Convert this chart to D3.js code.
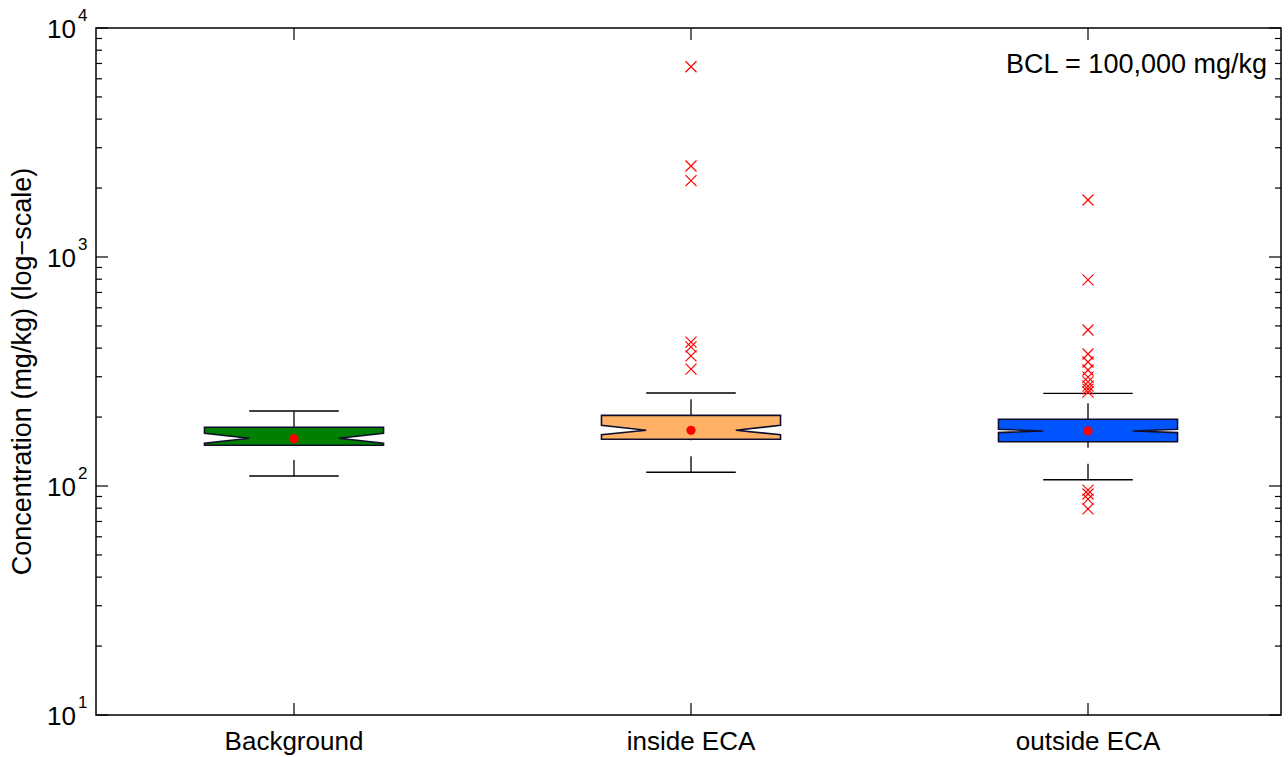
<!DOCTYPE html>
<html>
<head>
<meta charset="utf-8">
<script src="https://cdn.jsdelivr.net/npm/d3@7"></script>
<style>
  html, body { margin: 0; padding: 0; background: #fff; }
  svg { display: block; font-family: "Liberation Sans", Arial, sans-serif; }
</style>
</head>
<body>
<svg id="chart" width="1288" height="757"></svg>
<script>
// ---- Data ----
const categories = ["Background", "inside ECA", "outside ECA"];
const boxColors = ["#007f00", "#ffb266", "#0055ff"];
const q1Values = [150.6, 159.9, 156.1];
const q3Values = [180.4, 203.5, 195.6];
const medianValues = [161.6, 175.1, 173.9];
const notchLowValues = [153.7, 167.5, 171.0];
const notchHighValues = [169.9, 184.1, 176.9];
const whiskerLowValues = [110.6, 114.8, 106.5];
const whiskerHighValues = [212.6, 254.7, 254.0];
const meanValues = [161, 175, 174];
const outliersBackground = [];
const outliersInside = [6776, 2497, 2154, 425, 405, 370, 324];
const outliersOutside = [1774, 794, 480, 377, 348, 321, 299, 285, 273, 265, 257, 96.0, 92.3, 87.7, 79.4];
const yTickExponents = [1, 2, 3, 4];
const annotationText = "BCL = 100,000 mg/kg";
const yLabelText = "Concentration (mg/kg) (log\u2212scale)";

const outliers = [outliersBackground, outliersInside, outliersOutside];

(function () {
// ---- Layout ----
const svg = d3.select("#chart");
const pLeft = 96, pRight = 1281, pTop = 28, pBottom = 715;
const FS = 26;

const x = d3.scaleLinear().domain([1, 3]).range([294, 1088]);
const y = d3.scaleLog().domain([10, 10000]).range([pBottom, pTop]);

const boxHalf = 0.2255;   // in category units

// ---- Boxes ----
const g = svg.append("g");

categories.forEach((c, i) => {
  const cx = i + 1;
  const xl = x(cx - boxHalf), xr = x(cx + boxHalf);
  const xil = x(cx - boxHalf / 2), xir = x(cx + boxHalf / 2);
  const capL = x(cx - boxHalf / 2), capR = x(cx + boxHalf / 2);
  const xc = x(cx);

  g.append("line").attr("x1", xc).attr("x2", xc)
    .attr("y1", y(q3Values[i])).attr("y2", y(whiskerHighValues[i]))
    .attr("stroke", "#000").attr("stroke-width", 1.3).attr("stroke-dasharray", "16,16");
  g.append("line").attr("x1", xc).attr("x2", xc)
    .attr("y1", y(whiskerLowValues[i])).attr("y2", y(q1Values[i]))
    .attr("stroke", "#000").attr("stroke-width", 1.3).attr("stroke-dasharray", "16,16");
  [whiskerHighValues[i], whiskerLowValues[i]].forEach(v => {
    g.append("line").attr("x1", capL).attr("x2", capR)
      .attr("y1", y(v)).attr("y2", y(v))
      .attr("stroke", "#000").attr("stroke-width", 1.3);
  });

  const pts = [
    [xl, y(q1Values[i])], [xl, y(notchLowValues[i])], [xil, y(medianValues[i])],
    [xl, y(notchHighValues[i])], [xl, y(q3Values[i])], [xr, y(q3Values[i])],
    [xr, y(notchHighValues[i])], [xir, y(medianValues[i])], [xr, y(notchLowValues[i])],
    [xr, y(q1Values[i])]
  ];
  g.append("path")
    .attr("d", d3.line()(pts) + "Z")
    .attr("fill", boxColors[i])
    .attr("stroke", "#10102e").attr("stroke-width", 1.6)
    .attr("stroke-linejoin", "miter");

  g.append("circle").attr("cx", xc).attr("cy", y(meanValues[i])).attr("r", 4.6).attr("fill", "#ff0000");

  outliers[i].forEach(v => {
    const oy = y(v), s = 5.5;
    g.append("path")
      .attr("d", `M${xc - s},${oy - s}L${xc + s},${oy + s}M${xc - s},${oy + s}L${xc + s},${oy - s}`)
      .attr("stroke", "#ff0000").attr("stroke-width", 1.2).attr("fill", "none");
  });
});

// ---- Axes frame & ticks ----
const axisG = svg.append("g");
axisG.append("rect").attr("x", pLeft).attr("y", pTop).attr("width", pRight - pLeft).attr("height", pBottom - pTop)
  .attr("fill", "none").attr("stroke", "#000").attr("stroke-width", 1.5);

const minorTicks = [];
for (let e = 1; e < 4; e++) for (let m = 2; m <= 9; m++) minorTicks.push(m * Math.pow(10, e));
minorTicks.forEach(v => {
  axisG.append("line").attr("x1", pLeft).attr("x2", pLeft + 6).attr("y1", y(v)).attr("y2", y(v)).attr("stroke", "#000").attr("stroke-width", 1.2);
  axisG.append("line").attr("x1", pRight).attr("x2", pRight - 6).attr("y1", y(v)).attr("y2", y(v)).attr("stroke", "#000").attr("stroke-width", 1.2);
});
yTickExponents.forEach(e => {
  const v = Math.pow(10, e);
  axisG.append("line").attr("x1", pLeft).attr("x2", pLeft + 12).attr("y1", y(v)).attr("y2", y(v)).attr("stroke", "#000").attr("stroke-width", 1.2);
  axisG.append("line").attr("x1", pRight).attr("x2", pRight - 12).attr("y1", y(v)).attr("y2", y(v)).attr("stroke", "#000").attr("stroke-width", 1.2);
  axisG.append("text").attr("x", 76).attr("y", y(v) + 10).attr("text-anchor", "end")
    .attr("font-size", FS).attr("fill", "#000").text("10");
  axisG.append("text").attr("x", 78).attr("y", y(v) - 7).attr("text-anchor", "start")
    .attr("font-size", 17).attr("fill", "#000").text(String(e));
});

categories.forEach((c, i) => {
  const xc = x(i + 1);
  axisG.append("line").attr("x1", xc).attr("x2", xc).attr("y1", pBottom).attr("y2", pBottom - 12).attr("stroke", "#000").attr("stroke-width", 1.2);
  axisG.append("line").attr("x1", xc).attr("x2", xc).attr("y1", pTop).attr("y2", pTop + 12).attr("stroke", "#000").attr("stroke-width", 1.2);
  axisG.append("text").attr("x", xc).attr("y", 750).attr("text-anchor", "middle")
    .attr("font-size", FS).attr("fill", "#000").text(c);
});

svg.append("text")
  .attr("transform", `translate(31,${(pTop + pBottom) / 2}) rotate(-90)`)
  .attr("text-anchor", "middle").attr("font-size", 27).attr("fill", "#000")
  .text(yLabelText);

svg.append("text").attr("x", 1267).attr("y", 73).attr("text-anchor", "end")
  .attr("font-size", 27).attr("fill", "#000").text(annotationText);
})();
</script>
</body>
</html>
